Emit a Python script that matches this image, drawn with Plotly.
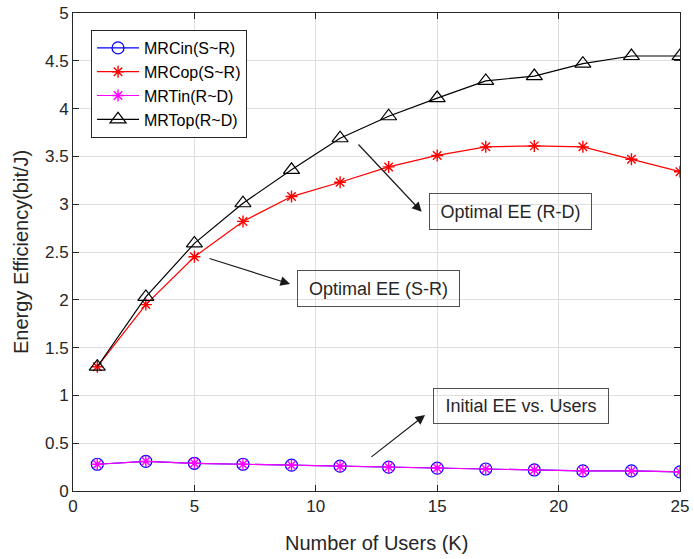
import plotly.graph_objects as go

users = [1, 3, 5, 7, 9, 11, 13, 15, 17, 19, 21, 23, 25]
mrc_in = [0.28, 0.31, 0.29, 0.28, 0.27, 0.26, 0.25, 0.24, 0.23, 0.22, 0.21, 0.21, 0.20]
mrc_op = [1.30, 1.95, 2.45, 2.82, 3.08, 3.23, 3.39, 3.51, 3.60, 3.61, 3.60, 3.47, 3.34]
mrt_in = [0.28, 0.31, 0.29, 0.28, 0.27, 0.26, 0.25, 0.24, 0.23, 0.22, 0.21, 0.21, 0.20]
mrt_op = [1.30, 2.03, 2.59, 3.01, 3.36, 3.69, 3.92, 4.11, 4.29, 4.34, 4.47, 4.55, 4.55]

x_ticks = [0, 5, 10, 15, 20, 25]
y_ticks = [0, 0.5, 1, 1.5, 2, 2.5, 3, 3.5, 4, 4.5, 5]
y_tick_labels = ["0", "0.5", "1", "1.5", "2", "2.5", "3", "3.5", "4", "4.5", "5"]

FONT = "Liberation Sans, Arial, sans-serif"
AX = "#262626"

fig = go.Figure()
fig.add_trace(go.Scatter(x=users, y=mrc_in, name="MRCin(S~R)", mode="lines+markers",
                         line=dict(color="#0000ff", width=1.2),
                         marker=dict(symbol="circle-open", size=12, color="#0000ff",
                                     line=dict(width=1.2, color="#0000ff"))))
fig.add_trace(go.Scatter(x=users, y=mrc_op, name="MRCop(S~R)", mode="lines+markers",
                         line=dict(color="#ff0000", width=1.2),
                         marker=dict(symbol="asterisk-open", size=10, color="#ff0000",
                                     line=dict(width=1.4, color="#ff0000"))))
fig.add_trace(go.Scatter(x=users, y=mrt_in, name="MRTin(R~D)", mode="lines+markers",
                         line=dict(color="#ff00ff", width=1.2),
                         marker=dict(symbol="asterisk-open", size=10, color="#ff00ff",
                                     line=dict(width=1.4, color="#ff00ff"))))
fig.add_trace(go.Scatter(x=users, y=mrt_op, name="MRTop(R~D)", mode="lines+markers",
                         line=dict(color="#000000", width=1.2),
                         marker=dict(symbol="triangle-up-open", size=14, color="#000000",
                                     line=dict(width=1.2, color="#000000"))))

boxes = [
    ("Optimal EE (R-D)", 18.02, 2.924, 161, 35),
    ("Optimal EE (S-R)", 12.58, 2.118, 161, 35),
    ("Initial EE vs. Users", 18.45, 0.889, 174, 34),
]
for txt, bx, by, w, h in boxes:
    fig.add_annotation(x=bx, y=by, xref="x", yref="y", text=txt, showarrow=False,
                       width=w, height=h, borderpad=0, bordercolor="#505050", borderwidth=1,
                       font=dict(family=FONT, size=18, color=AX), align="center")

arrows = [
    (11.70, 3.64, 14.36, 2.92),
    (5.56, 2.437, 8.94, 2.165),
    (12.23, 0.345, 14.50, 0.795),
]
for tx, ty, hx, hy in arrows:
    fig.add_annotation(x=hx, y=hy, ax=tx, ay=ty, xref="x", yref="y", axref="x", ayref="y",
                       text="", showarrow=True, arrowhead=2, arrowsize=1.6, arrowwidth=1.2,
                       arrowcolor="#1a1a1a", standoff=0, startstandoff=0)

fig.add_annotation(text="Number of Users (K)", xref="paper", yref="paper", x=0.5, y=-0.109,
                   xanchor="center", yanchor="middle", showarrow=False,
                   font=dict(family=FONT, size=20, color=AX))
fig.add_annotation(text="Energy Efficiency(bit/J)", xref="paper", yref="paper", x=-0.0857, y=0.5,
                   xanchor="center", yanchor="middle", textangle=-90, showarrow=False,
                   font=dict(family=FONT, size=20, color=AX))

axis_common = dict(showline=True, linecolor=AX, linewidth=1, mirror="ticks", ticks="inside",
                   ticklen=6, tickcolor=AX, tickwidth=1, showgrid=True, gridcolor="#dedede",
                   gridwidth=1, zeroline=False, tickfont=dict(family=FONT, size=17, color=AX))
fig.update_xaxes(range=[0, 25], tickvals=x_ticks, **axis_common)
fig.update_yaxes(range=[0, 5], tickvals=y_ticks, ticktext=y_tick_labels, **axis_common)

fig.update_layout(
    width=694, height=559,
    margin=dict(l=73, r=14, t=13, b=68, autoexpand=False),
    paper_bgcolor="white", plot_bgcolor="white",
    font=dict(family=FONT, color=AX),
    showlegend=True,
    legend=dict(x=0.0297, y=0.9644, xanchor="left", yanchor="top",
                bordercolor=AX, borderwidth=1, bgcolor="white",
                font=dict(family=FONT, size=16, color="#000000"),
                tracegroupgap=0, itemwidth=42),
)

fig.write_html("out.html", config={"displayModeBar": False},
               post_script="document.body.style.margin='0';document.body.style.overflow='hidden';")
